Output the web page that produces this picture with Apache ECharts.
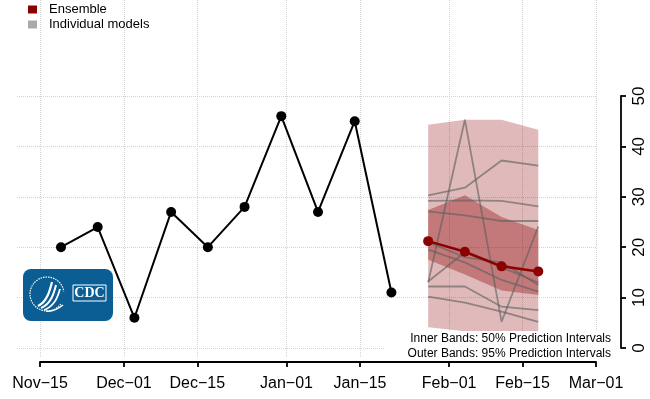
<!DOCTYPE html>
<html>
<head>
<meta charset="utf-8">
<script src="https://cdn.jsdelivr.net/npm/echarts@6/dist/echarts.min.js"></script>
<style>
  html, body { margin: 0; padding: 0; background: #fff; }
  #chart { width: 650px; height: 399px; }
</style>
</head>
<body>
<div id="chart"></div>
<script>
// observed weekly counts
var obsDates = ['2016-11-19','2016-11-26','2016-12-03','2016-12-10','2016-12-17','2016-12-24','2016-12-31','2017-01-07','2017-01-14','2017-01-21'];
var obsValues = [20, 24, 6, 27, 20, 28, 46, 27, 45, 11];

// forecast weeks
var fcDates = ['2017-01-28','2017-02-04','2017-02-11','2017-02-18'];
var ensemble = [21.2, 19.1, 16.2, 15.2];
var lower95 = [4.1, 3.3, 2.8, 2.5];
var upper95 = [44.3, 45.3, 45.3, 43.3];
var lower50 = [17.5, 14.6, 11.4, 10.5];
var upper50 = [27.4, 30.3, 26.0, 23.4];

// individual models (one array per model)
var model1 = [13.0, 45.3, 5.2, 24.1];
var model2 = [30.3, 31.8, 37.2, 36.2];
var model3 = [29.2, 29.3, 29.2, 28.1];
var model4 = [27.1, 26.3, 25.2, 25.2];
var model5 = [21.0, 18.0, 17.0, 12.5];
var model6 = [19.5, 17.0, 13.5, 11.2];
var model7 = [13.2, 19.0, 16.0, 13.0];
var model8 = [12.2, 12.2, 8.2, 7.5];
var model9 = [10.2, 9.0, 7.2, 5.2];
var models = [model1, model2, model3, model4, model5, model6, model7, model8, model9];

// axis ticks
var xTickDates = ['2016-11-15','2016-12-01','2016-12-15','2017-01-01','2017-01-15','2017-02-01','2017-02-15','2017-03-01'];
var yTicks = [0, 10, 20, 30, 40, 50];
var monthNames = ['Jan','Feb','Mar','Apr','May','Jun','Jul','Aug','Sep','Oct','Nov','Dec'];

function ts(s) { return Date.parse(s + 'T00:00:00Z'); }
var DAY = 864e5;
var xTickVals = xTickDates.map(ts);
var xStart = xTickVals[0], xEnd = xTickVals[xTickVals.length - 1];
var xMin0 = xStart - 4.385 * DAY;   // plot region reaches a bit left of first tick

function pair(dates, vals) {
  return dates.map(function (d, i) { return [ts(d), vals[i]]; });
}

var FONT = 'Liberation Sans, Arial, sans-serif';
var grid = { type: 'dotted', color: '#d2d2d2', width: 1 };

var series = [];

function bandSeries(lo, hi, color, name) {
  return {
    type: 'custom', name: name, xAxisIndex: 0, yAxisIndex: 0, z: 1, silent: true,
    data: [[ts(fcDates[0]), lo[0]]],
    renderItem: function (params, api) {
      var pts = [];
      for (var i = 0; i < fcDates.length; i++) pts.push(api.coord([ts(fcDates[i]), hi[i]]));
      for (var j = fcDates.length - 1; j >= 0; j--) pts.push(api.coord([ts(fcDates[j]), lo[j]]));
      return { type: 'polygon', shape: { points: pts }, style: { fill: color } };
    }
  };
}
series.push(bandSeries(lower95, upper95, 'rgba(139,0,0,0.27)', 'outer'));
series.push(bandSeries(lower50, upper50, 'rgba(139,0,0,0.35)', 'inner'));

models.forEach(function (m) {
  series.push({
    name: 'Individual models', type: 'line', xAxisIndex: 0, yAxisIndex: 0, z: 2,
    data: pair(fcDates, m), showSymbol: false, symbol: 'none',
    lineStyle: { color: 'rgba(95,95,95,0.62)', width: 1.8 },
    itemStyle: { color: '#aaaaaa' }
  });
});

series.push({
  name: 'Observed', type: 'line', xAxisIndex: 0, yAxisIndex: 0, z: 3,
  data: pair(obsDates, obsValues), symbol: 'circle', symbolSize: 10,
  lineStyle: { color: '#000', width: 2 }, itemStyle: { color: '#000' }
});

series.push({
  name: 'Ensemble', type: 'line', xAxisIndex: 0, yAxisIndex: 0, z: 4,
  data: pair(fcDates, ensemble), symbol: 'circle', symbolSize: 10,
  lineStyle: { color: '#8B0000', width: 2.5 }, itemStyle: { color: '#8B0000' }
});

var chart = echarts.init(document.getElementById('chart'));
var option = {
  animation: false,
  backgroundColor: '#fff',
  textStyle: { fontFamily: FONT },
  legend: {
    orient: 'vertical', left: 28, top: 3, itemGap: 2, padding: 0,
    itemWidth: 9, itemHeight: 8, icon: 'rect', selectedMode: false,
    textStyle: { fontSize: 13, color: '#000', fontFamily: FONT, padding: [0, 0, 0, 7], lineHeight: 13 },
    data: [
      { name: 'Ensemble', itemStyle: { color: '#8B0000' } },
      { name: 'Individual models', itemStyle: { color: '#aaaaaa' } }
    ]
  },
  grid: [
    { left: 17, right: 54, top: 0, bottom: 42 },   // data + gridlines
    { left: 40, right: 54, top: 0, bottom: 37 },   // visible x axis
    { left: 40, right: 54, top: 96, bottom: 51 }   // visible y axis
  ],
  xAxis: [
    {
      gridIndex: 0, type: 'value', min: xMin0, max: xEnd,
      axisLine: { show: false }, axisTick: { show: false, customValues: xTickVals },
      axisLabel: { show: false, customValues: xTickVals },
      splitLine: { show: true, lineStyle: grid }
    },
    {
      gridIndex: 1, type: 'value', min: xStart, max: xEnd,
      axisLine: { show: true, onZero: false, lineStyle: { color: '#000', width: 1.8 } },
      axisTick: { show: true, length: 5, lineStyle: { color: '#000', width: 1.8 }, customValues: xTickVals },
      axisLabel: {
        show: true, customValues: xTickVals, margin: 14, fontSize: 16, color: '#000', fontFamily: FONT,
        formatter: function (v) {
          var d = new Date(v);
          var day = d.getUTCDate();
          return monthNames[d.getUTCMonth()] + '\u2212' + (day < 10 ? '0' + day : day);
        }
      },
      splitLine: { show: false }
    },
    { gridIndex: 2, type: 'value', min: xStart, max: xEnd, show: false }
  ],
  yAxis: [
    {
      gridIndex: 0, type: 'value', min: -9 / 5.04, max: 348 / 5.04,
      axisLine: { show: false }, axisTick: { show: false, customValues: yTicks },
      axisLabel: { show: false, customValues: yTicks },
      splitLine: { show: true, lineStyle: grid }
    },
    { gridIndex: 1, type: 'value', min: 0, max: 1, show: false },
    {
      gridIndex: 2, type: 'value', min: 0, max: 50, interval: 10, position: 'right', offset: 25,
      axisLine: { show: true, onZero: false, lineStyle: { color: '#000', width: 1.8 } },
      axisTick: { show: true, length: 5, lineStyle: { color: '#000', width: 1.8 } },
      axisLabel: { rotate: 90, margin: 10, fontSize: 17, color: '#000', fontFamily: FONT },
      splitLine: { show: false }
    }
  ],
  graphic: [
    // prediction interval note with white box
    { type: 'rect', z: 50, shape: { x: 384, y: 331, width: 230, height: 29 }, style: { fill: '#fff' } },
    { type: 'text', z: 51, x: 611, y: 339, style: { text: 'Inner Bands: 50% Prediction Intervals', align: 'right', verticalAlign: 'middle', fontSize: 12, fontFamily: FONT, fill: '#000' } },
    { type: 'text', z: 51, x: 611, y: 354, style: { text: 'Outer Bands: 95% Prediction Intervals', align: 'right', verticalAlign: 'middle', fontSize: 12, fontFamily: FONT, fill: '#000' } },
    // CDC logo
    { type: 'rect', z: 50, shape: { x: 23, y: 269, width: 90, height: 52, r: 8 }, style: { fill: '#0b5e93' } },
    { type: 'arc', z: 51, shape: { cx: 47, cy: 294, r: 17, startAngle: Math.PI * 0.2, endAngle: Math.PI * 1.95 }, style: { stroke: '#fff', lineWidth: 1.2, lineDash: [1.5, 1], fill: null } },
    { type: 'bezierCurve', z: 52, shape: { x1: 38, y1: 306, x2: 52, y2: 282, cpx1: 47, cpy1: 302, cpx2: 50, cpy2: 290 }, style: { stroke: '#fff', lineWidth: 2.2, fill: null } },
    { type: 'bezierCurve', z: 52, shape: { x1: 41, y1: 308, x2: 56, y2: 285, cpx1: 51, cpy1: 304, cpx2: 54, cpy2: 293 }, style: { stroke: '#fff', lineWidth: 2, fill: null } },
    { type: 'bezierCurve', z: 52, shape: { x1: 44, y1: 310, x2: 60, y2: 289, cpx1: 55, cpy1: 306, cpx2: 58, cpy2: 296 }, style: { stroke: '#fff', lineWidth: 1.8, fill: null } },
    { type: 'bezierCurve', z: 52, shape: { x1: 46, y1: 311, x2: 63, y2: 305, cpx1: 53, cpy1: 312, cpx2: 58, cpy2: 309 }, style: { stroke: '#fff', lineWidth: 1.5, fill: null } },
    { type: 'rect', z: 51, shape: { x: 73, y: 285, width: 33, height: 16 }, style: { fill: null, stroke: '#fff', lineWidth: 1 } },
    { type: 'text', z: 52, x: 89.5, y: 293.5, style: { text: 'CDC', align: 'center', verticalAlign: 'middle', fontSize: 14, fontWeight: 'bold', fontFamily: 'Liberation Serif, serif', fill: '#fff' } }
  ],
  series: series
};
chart.setOption(option);
</script>
</body>
</html>
